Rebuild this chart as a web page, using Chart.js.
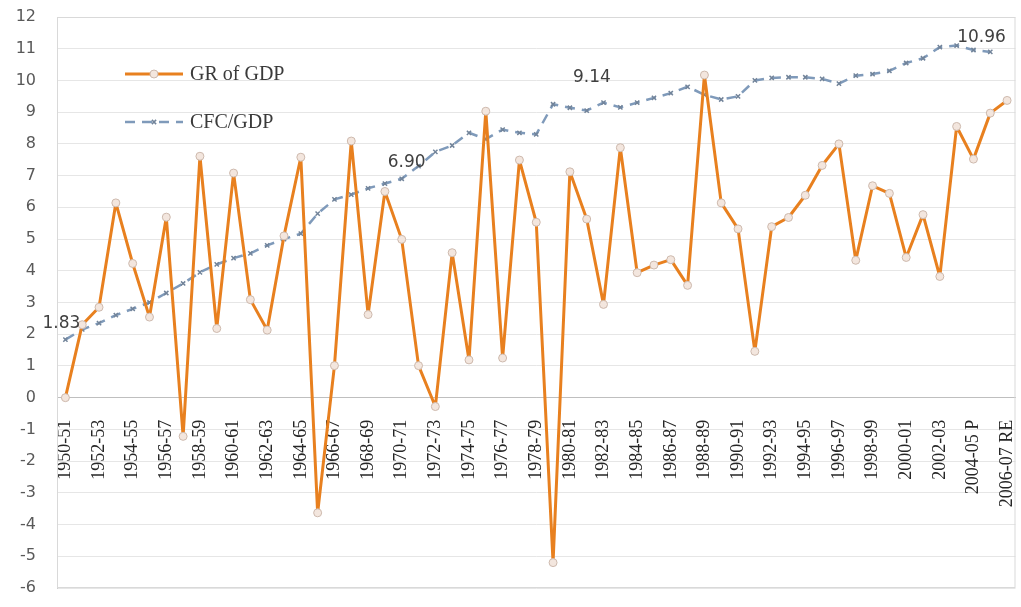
<!DOCTYPE html>
<html lang="en">
<head>
  <meta charset="utf-8" />
  <title>GR of GDP and CFC/GDP</title>
  <script src="https://cdn.jsdelivr.net/npm/chart.js@4.4.1/dist/chart.umd.min.js"></script>
  <style>
    html, body { margin: 0; background: #fff; }
    .wrap { width: 1021px; height: 607px; position: relative; }
  </style>
</head>
<body>
  <div class="wrap"><canvas id="chart"></canvas></div>

  <script>
    // Fiscal years, 1950-51 to 2006-07 (only every other one is labelled on the axis)
    const years = [
      '1950-51', '1951-52', '1952-53', '1953-54', '1954-55', '1955-56', '1956-57', '1957-58',
      '1958-59', '1959-60', '1960-61', '1961-62', '1962-63', '1963-64', '1964-65', '1965-66',
      '1966-67', '1967-68', '1968-69', '1969-70', '1970-71', '1971-72', '1972-73', '1973-74',
      '1974-75', '1975-76', '1976-77', '1977-78', '1978-79', '1979-80', '1980-81', '1981-82',
      '1982-83', '1983-84', '1984-85', '1985-86', '1986-87', '1987-88', '1988-89', '1989-90',
      '1990-91', '1991-92', '1992-93', '1993-94', '1994-95', '1995-96', '1996-97', '1997-98',
      '1998-99', '1999-00', '2000-01', '2001-02', '2002-03', '2003-04', '2004-05 P', '2005-06 Q',
      '2006-07 RE'
    ];

    // Growth rate of GDP (%)
    const grGdp = [
      0.0, 2.3, 2.85, 6.14, 4.23, 2.54, 5.69, -1.22, 7.61, 2.18,
      7.08, 3.09, 2.13, 5.1, 7.58, -3.63, 1.01, 8.09, 2.62, 6.5,
      4.99, 1.01, -0.28, 4.57, 1.19, 9.03, 1.25, 7.49, 5.53, -5.2,
      7.12, 5.63, 2.94, 7.88, 3.94, 4.18, 4.35, 3.54, 10.17, 6.14,
      5.32, 1.46, 5.39, 5.68, 6.38, 7.32, 8.0, 4.33, 6.68, 6.44,
      4.42, 5.77, 3.82, 8.55, 7.52, 8.97, 9.37
    ];

    // Consumption of fixed capital as % of GDP
    const cfcGdp = [
      1.83, 2.15, 2.35, 2.6, 2.8, 3.0, 3.3, 3.6, 3.95, 4.2,
      4.4, 4.55, 4.8, 5.0, 5.17, 5.8, 6.25, 6.4, 6.6, 6.75,
      6.9, 7.3, 7.75, 7.95, 8.35, 8.15, 8.45, 8.35, 8.3, 9.25,
      9.14, 9.05, 9.3, 9.15, 9.3, 9.45, 9.6, 9.8, 9.55, 9.4,
      9.5, 10.0, 10.08, 10.1, 10.1, 10.05, 9.9, 10.15, 10.2, 10.3,
      10.55, 10.7, 11.05, 11.1, 10.96, 10.9, null
    ];

    // CFC/GDP points that carry a value label
    const cfcLabelled = [0, 20, 30, 54];

    const yMin = -6;
    const yMax = 12;
    const yStep = 1;

    const ORANGE = '#e8801f';
    const STEEL = '#7f9aba';
    const GRID = '#e6e6e6';
    const AXIS = '#bfbfbf';
    const SERIF = "'Liberation Serif', 'Times New Roman', serif";
    const SANS = "'DejaVu Sans', Verdana, sans-serif";

    // label offsets from their point, in px (placement as in the source figure)
    const labelOffsets = { 0: [-4, -16], 20: [5, -16], 30: [22, -30], 54: [8, -12] };

    const plotFrame = {
      id: 'plotFrame',
      beforeDatasetsDraw(chart) {
        const { ctx, chartArea: a } = chart;
        ctx.save();
        ctx.strokeStyle = '#d9d9d9';
        ctx.lineWidth = 1;
        ctx.strokeRect(a.left + 0.5, a.top + 0.5, a.right - a.left - 1, a.bottom - a.top - 1);
        ctx.restore();
      }
    };

    const valueLabels = {
      id: 'valueLabels',
      afterDatasetsDraw(chart) {
        const { ctx } = chart;
        const meta = chart.getDatasetMeta(1);
        ctx.save();
        ctx.font = '17px ' + SANS;
        ctx.fillStyle = '#404040';
        ctx.textAlign = 'center';
        ctx.textBaseline = 'middle';
        cfcLabelled.forEach((i) => {
          const pt = meta.data[i];
          const off = labelOffsets[i] || [0, -16];
          ctx.fillText(cfcGdp[i].toFixed(2), pt.x + off[0], pt.y + off[1]);
        });
        ctx.restore();
      }
    };

    // legend drawn inside the plot, stacked, like the source figure
    const innerLegend = {
      id: 'innerLegend',
      afterDraw(chart) {
        const { ctx } = chart;
        const x0 = 125, x1 = 183, tx = 190;
        const rows = [74, 122];
        ctx.save();
        chart.data.datasets.forEach((ds, i) => {
          const y = rows[i];
          const mx = (x0 + x1) / 2;
          ctx.strokeStyle = ds.borderColor;
          ctx.lineWidth = ds.borderWidth;
          ctx.setLineDash(ds.borderDash || []);
          ctx.beginPath();
          ctx.moveTo(x0, y);
          ctx.lineTo(x1, y);
          ctx.stroke();
          ctx.setLineDash([]);
          ctx.fillStyle = ds.pointBackgroundColor;
          ctx.strokeStyle = ds.pointBorderColor;
          ctx.lineWidth = ds.pointBorderWidth;
          Chart.helpers.drawPoint(ctx, {
            pointStyle: ds.pointStyle,
            radius: ds.pointRadius,
            borderWidth: ds.pointBorderWidth,
            rotation: 0
          }, mx, y);
          ctx.font = '20px ' + SERIF;
          ctx.fillStyle = '#3a3a3a';
          ctx.textAlign = 'left';
          ctx.textBaseline = 'middle';
          ctx.fillText(ds.label, tx, y + 1);
        });
        ctx.restore();
      }
    };

    new Chart(document.getElementById('chart'), {
      type: 'line',
      data: {
        labels: years,
        datasets: [
          {
            label: 'GR of GDP',
            data: grGdp,
            borderColor: ORANGE,
            borderWidth: 3,
            borderJoinStyle: 'round',
            tension: 0,
            pointStyle: 'circle',
            pointRadius: 4,
            pointBackgroundColor: '#f3e6de',
            pointBorderColor: '#cdb9ad',
            pointBorderWidth: 1
          },
          {
            label: 'CFC/GDP',
            data: cfcGdp,
            borderColor: STEEL,
            borderWidth: 2.5,
            borderDash: [10, 7],
            borderJoinStyle: 'round',
            tension: 0,
            spanGaps: false,
            pointStyle: 'crossRot',
            pointRadius: 3,
            pointBackgroundColor: '#72849a',
            pointBorderColor: '#72849a',
            pointBorderWidth: 1.5
          }
        ]
      },
      options: {
        responsive: true,
        maintainAspectRatio: false,
        animation: false,
        layout: { padding: { top: 17, right: 5, bottom: 19, left: 0 } },
        plugins: {
          legend: { display: false },
          tooltip: { enabled: false }
        },
        scales: {
          x: {
            type: 'category',
            position: { y: 0 },
            offset: true,
            grid: { display: false },
            border: { display: true, color: AXIS, width: 1 },
            ticks: {
              autoSkip: false,
              maxRotation: 90,
              minRotation: 90,
              padding: 14,
              color: '#262626',
              font: { family: SERIF, size: 18 },
              callback: (v, i) => (i % 2 === 0 ? years[i] : '')
            },
            afterFit: (s) => { s.paddingLeft = 0; s.paddingRight = 0; }
          },
          y: {
            min: yMin,
            max: yMax,
            grid: {
              drawTicks: false,
              color: (c) => (c.tick && c.tick.value === 0 ? AXIS : GRID)
            },
            border: { display: true, color: '#cfcfcf' },
            ticks: {
              stepSize: yStep,
              padding: 21,
              color: '#595959',
              font: { family: SANS, size: 16 }
            },
            afterFit: (s) => { s.width = 57; s.paddingTop = 0; s.paddingBottom = 0; }
          }
        }
      },
      plugins: [plotFrame, valueLabels, innerLegend]
    });
  </script>
</body>
</html>
